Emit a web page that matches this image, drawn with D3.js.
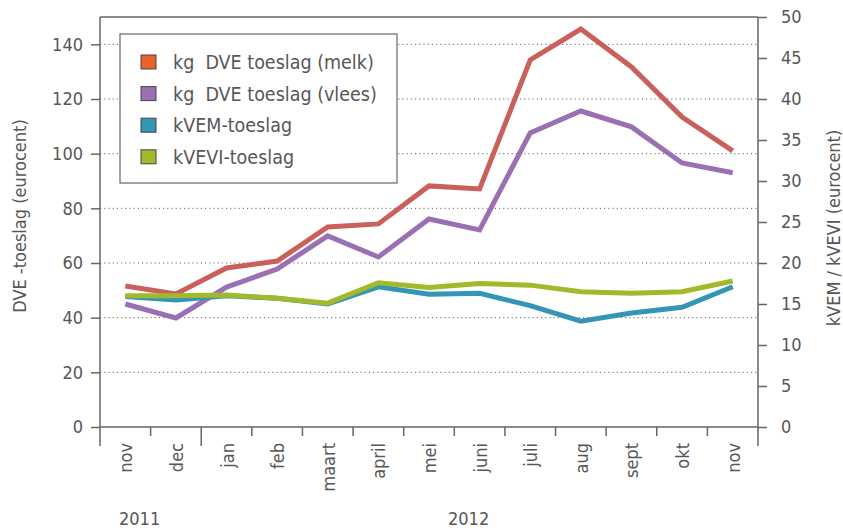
<!DOCTYPE html>
<html>
<head>
<meta charset="utf-8">
<script src="https://cdn.jsdelivr.net/npm/d3@7"></script>
<style>
  body { margin: 0; background: #fff; }
  svg text { font-family: "DejaVu Sans Condensed", "Liberation Sans Narrow", sans-serif; fill: #575757; }
</style>
</head>
<body>
<svg id="chart" width="843" height="528"></svg>
<script>
// maanden (nov 2011 - nov 2012)
const months = ["nov", "dec", "jan", "feb", "maart", "april", "mei", "juni", "juli", "aug", "sept", "okt", "nov2"];
const monthLabels = ["nov", "dec", "jan", "feb", "maart", "april", "mei", "juni", "juli", "aug", "sept", "okt", "nov"];
const years = [{label: "2011", from: 0, to: 2}, {label: "2012", from: 2, to: 13}];

// linker as (eurocent)
const dveMelk  = [51.6, 48.7, 58.2, 60.7, 73.2, 74.3, 88.2, 87.1, 134.3, 145.6, 131.7, 113.4, 101.0];
const dveVlees = [45.0, 39.9, 51.2, 57.8, 69.9, 62.2, 76.1, 72.1, 107.6, 115.6, 109.8, 96.6, 93.0];
// rechter as (eurocent)
const kvem  = [15.9, 15.5, 16.0, 15.7, 15.0, 17.1, 16.2, 16.3, 14.8, 12.9, 13.9, 14.6, 17.1];
const kvevi = [16.0, 16.0, 16.1, 15.7, 15.1, 17.6, 17.0, 17.5, 17.3, 16.5, 16.3, 16.5, 17.8];

const leftTicks = [0, 20, 40, 60, 80, 100, 120, 140];
const rightTicks = [0, 5, 10, 15, 20, 25, 30, 35, 40, 45, 50];

const series = [
  {name: "kg  DVE toeslag (melk)",  values: dveMelk,  axis: "left",  line: "#c9605a", swatch: "#e8622c"},
  {name: "kg  DVE toeslag (vlees)", values: dveVlees, axis: "left",  line: "#9a70b3", swatch: "#9a70b3"},
  {name: "kVEM-toeslag",            values: kvem,     axis: "right", line: "#3495b4", swatch: "#3495b4"},
  {name: "kVEVI-toeslag",           values: kvevi,    axis: "right", line: "#a1b92b", swatch: "#a1b92b"}
];

const margin = {top: 17, left: 100, right: 85, bottom: 101};
const width = 843 - margin.left - margin.right;
const height = 528 - margin.top - margin.bottom;
const axisColor = "#666";

const svg = d3.select("#chart");
const g = svg.append("g").attr("transform", "translate(" + margin.left + "," + margin.top + ")");

const x = d3.scaleBand().domain(months).range([0, width]);
const yL = d3.scaleLinear().domain([0, 150]).range([height, 0]);
const yR = d3.scaleLinear().domain([0, 50]).range([height, 0]);

// gridlijnen
g.append("g").selectAll("line")
  .data(leftTicks.filter(d => d > 0))
  .enter().append("line")
  .attr("x1", 0).attr("x2", width)
  .attr("y1", d => yL(d)).attr("y2", d => yL(d))
  .attr("stroke", "#666").attr("stroke-width", 1)
  .attr("stroke-dasharray", "1.2,3");

// linker as
const leftAxis = g.append("g")
  .call(d3.axisLeft(yL).tickValues(leftTicks).tickSize(9).tickPadding(8));
leftAxis.select(".domain").remove();
leftAxis.selectAll("line").attr("stroke", axisColor).attr("stroke-width", 1.5);
leftAxis.selectAll("text").attr("font-size", 18).attr("font-family", null);

// rechter as
const rightAxis = g.append("g").attr("transform", "translate(" + width + ",0)")
  .call(d3.axisRight(yR).tickValues(rightTicks).tickSize(9).tickPadding(14));
rightAxis.select(".domain").remove();
rightAxis.selectAll("line").attr("stroke", axisColor).attr("stroke-width", 1.5);
rightAxis.selectAll("text").attr("font-size", 18).attr("font-family", null);

// kader: boven, links, rechts en onder
g.append("line").attr("x1", 0).attr("x2", width).attr("y1", 0).attr("y2", 0)
  .attr("stroke", axisColor).attr("stroke-width", 1.5);
g.append("line").attr("x1", 0).attr("x2", width).attr("y1", height).attr("y2", height)
  .attr("stroke", axisColor).attr("stroke-width", 1.5);
[0, width].forEach(px => {
  g.append("line").attr("x1", px).attr("x2", px).attr("y1", 0).attr("y2", height + 19)
    .attr("stroke", axisColor).attr("stroke-width", 1.5);
});

// x-as streepjes tussen de maanden
const bounds = d3.range(1, months.length).map(i => x(months[i]));
g.append("g").selectAll("line")
  .data(bounds)
  .enter().append("line")
  .attr("x1", d => d).attr("x2", d => d)
  .attr("y1", height)
  .attr("y2", (d, i) => (i + 1) === years[1].from ? height + 19 : height + 9)
  .attr("stroke", axisColor).attr("stroke-width", 1.5);

// maandlabels
g.append("g").selectAll("text")
  .data(months)
  .enter().append("text")
  .attr("transform", d => "translate(" + (x(d) + x.bandwidth() / 2 + 7) + "," + (height + 16) + ") rotate(-90)")
  .attr("text-anchor", "end")
  .attr("font-size", 18)
  .text((d, i) => monthLabels[i]);

// jaartallen
g.append("g").selectAll("text")
  .data(years)
  .enter().append("text")
  .attr("x", d => (x(months[d.from]) + (d.to < months.length ? x(months[d.to]) : width)) / 2 - 11)
  .attr("y", height + 98)
  .attr("text-anchor", "middle")
  .attr("font-size", 18)
  .text(d => d.label);

// lijnen
series.forEach(s => {
  const ys = s.axis === "left" ? yL : yR;
  const line = d3.line()
    .x((d, i) => x(months[i]) + x.bandwidth() / 2)
    .y(d => ys(d));
  g.append("path")
    .datum(s.values)
    .attr("d", line)
    .attr("fill", "none")
    .attr("stroke", s.line)
    .attr("stroke-width", 5)
    .attr("stroke-linejoin", "miter");
});

// aslabels
svg.append("text")
  .attr("transform", "translate(26,216) rotate(-90)")
  .attr("text-anchor", "middle")
  .attr("font-size", 18)
  .text("DVE -toeslag (eurocent)");
svg.append("text")
  .attr("transform", "translate(840,228) rotate(-90)")
  .attr("text-anchor", "middle")
  .attr("font-size", 18)
  .text("kVEM / kVEVI (eurocent)");

// legenda
const legend = svg.append("g").attr("transform", "translate(120,34)");
legend.append("rect")
  .attr("width", 277).attr("height", 149)
  .attr("fill", "#fff").attr("stroke", axisColor).attr("stroke-width", 1.2);
const items = legend.selectAll(".item")
  .data(series)
  .enter().append("g")
  .attr("class", "item")
  .attr("transform", (d, i) => "translate(21," + (21 + i * 31.6) + ")");
items.append("rect")
  .attr("width", 15).attr("height", 14)
  .attr("fill", d => d.swatch)
  .attr("stroke", "#444").attr("stroke-width", 1);
items.append("text")
  .attr("x", 32).attr("y", 14)
  .attr("font-size", 19.5)
  .attr("xml:space", "preserve")
  .style("white-space", "pre")
  .text(d => d.name);
</script>
</body>
</html>
